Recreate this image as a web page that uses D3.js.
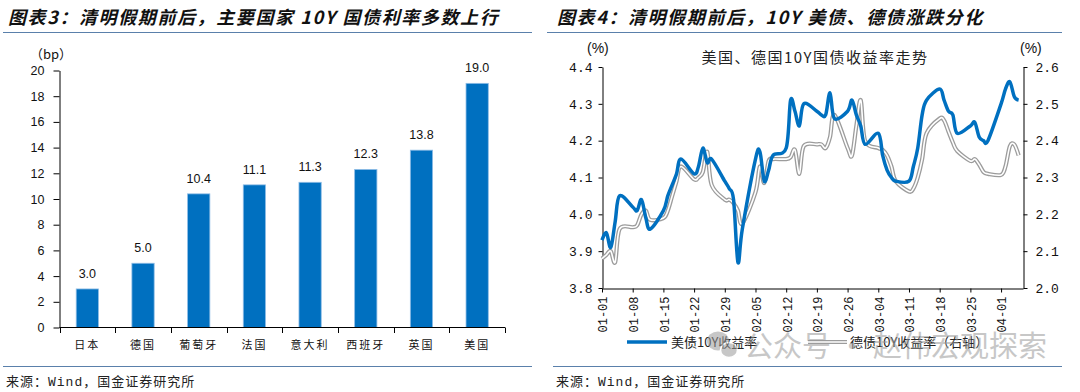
<!DOCTYPE html>
<html>
<head>
<meta charset="utf-8">
<script src="https://cdn.jsdelivr.net/npm/d3@7"></script>
<style>
  body { margin: 0; background: #fff; }
  svg { display: block; }
</style>
</head>
<body>
<script>
// ---- left chart: change of 10Y yields over Qingming (bp)
var countries = ["日本", "德国", "葡萄牙", "法国", "意大利", "西班牙", "英国", "美国"];
var changes = [3.0, 5.0, 10.4, 11.1, 11.3, 12.3, 13.8, 19.0];
var barTicks = [0, 2, 4, 6, 8, 10, 12, 14, 16, 18, 20];

// ---- right chart: 10Y yields, US (left axis) and Germany (right axis)
var days = ["01-01","01-02","01-03","01-04","01-05","01-08","01-09","01-10","01-11","01-12",
            "01-15","01-16","01-17","01-18","01-19","01-22","01-23","01-24","01-25","01-26",
            "01-29","01-30","01-31","02-01","02-02","02-05","02-06","02-07","02-08","02-09",
            "02-12","02-13","02-14","02-15","02-16","02-19","02-20","02-21","02-22","02-23",
            "02-26","02-27","02-28","02-29","03-01","03-04","03-05","03-06","03-07","03-08",
            "03-11","03-12","03-13","03-14","03-15","03-18","03-19","03-20","03-21","03-22",
            "03-25","03-26","03-27","03-28","03-29","04-01","04-02","04-03","04-04","04-05"];
var usYield = [3.93,3.95,3.91,3.98,4.05,4.02,4.01,4.04,3.99,3.96,
               4.01,4.05,4.08,4.11,4.15,4.11,4.13,4.18,4.14,4.15,
               4.09,4.07,4.04,3.87,3.96,4.15,4.17,4.09,4.12,4.16,
               4.18,4.31,4.28,4.24,4.30,4.28,4.27,4.27,4.33,4.26,
               4.28,4.31,4.27,4.24,4.19,4.22,4.16,4.12,4.10,4.09,
               4.09,4.13,4.18,4.27,4.31,4.34,4.31,4.28,4.27,4.22,
               4.24,4.25,4.21,4.20,4.20,4.30,4.34,4.36,4.32,4.31];
var deYield = [2.08,2.09,2.10,2.07,2.16,2.165,2.17,2.20,2.21,2.185,
               2.19,2.21,2.25,2.29,2.33,2.295,2.30,2.315,2.37,2.28,
               2.24,2.24,2.23,2.21,2.175,2.26,2.33,2.285,2.345,2.35,
               2.35,2.355,2.375,2.31,2.385,2.39,2.39,2.38,2.41,2.47,
               2.38,2.36,2.44,2.51,2.40,2.38,2.375,2.36,2.33,2.29,
               2.262,2.27,2.30,2.35,2.42,2.46,2.455,2.425,2.395,2.372,
               2.345,2.35,2.335,2.315,2.31,2.307,2.33,2.385,2.39,2.36];
var usTicks = [3.8, 3.9, 4.0, 4.1, 4.2, 4.3, 4.4];
var deTicks = [2.0, 2.1, 2.2, 2.3, 2.4, 2.5, 2.6];
var dateTicks = ["01-01","01-08","01-15","01-22","01-29","02-05","02-12","02-19",
                 "02-26","03-04","03-11","03-18","03-25","04-01"];

var width = 1080,
    height = 392,
    blue = "#0070c0",
    ruleColor = "#5a80ab",
    cjk = "'Noto Sans CJK SC', 'Noto Sans', sans-serif",
    mono = "'Liberation Mono', 'Noto Sans CJK SC', monospace";

var parseDay = d3.timeParse("%Y-%m-%d");
function toDate(s) { return parseDay("2024-" + s); }

var svg = d3.select("body")
    .append("svg")
    .attr("width", width)
    .attr("height", height);

// ---- titles, rules, sources
var titles = [
    {x: 8, text: "图表3：清明假期前后，主要国家 10Y 国债利率多数上行"},
    {x: 557, text: "图表4：清明假期前后，10Y 美债、德债涨跌分化"}
];
svg.selectAll("text.title")
    .data(titles)
    .enter()
    .append("text")
    .attr("class", "title")
    .attr("x", function(d) { return d.x; })
    .attr("y", 24)
    .attr("font-family", cjk)
    .attr("font-size", "18px")
    .attr("font-weight", 700)
    .attr("font-style", "italic")
    .attr("letter-spacing", "1.6px")
    .attr("fill", "#111")
    .text(function(d) { return d.text; });

var rules = [[3, 532, 32], [547, 1062, 32], [3, 532, 366], [553, 1062, 366]];
svg.selectAll("line.rule")
    .data(rules)
    .enter()
    .append("line")
    .attr("x1", function(d) { return d[0]; })
    .attr("x2", function(d) { return d[1]; })
    .attr("y1", function(d) { return d[2] + 0.5; })
    .attr("y2", function(d) { return d[2] + 0.5; })
    .attr("stroke", ruleColor)
    .attr("stroke-width", 1);

svg.selectAll("text.source")
    .data([6, 556])
    .enter()
    .append("text")
    .attr("class", "source")
    .attr("x", function(d) { return d; })
    .attr("y", 386)
    .attr("font-family", mono)
    .attr("font-size", "13px")
    .attr("letter-spacing", "1px")
    .attr("fill", "#222")
    .text("来源：Wind，国金证券研究所");

// ---- left: bar chart
var x = d3.scaleBand()
    .domain(countries)
    .range([59.5, 505])
    .paddingInner(0.6)
    .paddingOuter(0.3);

var y = d3.scaleLinear()
    .domain([0, 20])
    .range([327.5, 70.5]);

var yAxis = svg.append("g")
    .attr("transform", "translate(59.5,0)")
    .call(d3.axisLeft(y).tickValues(barTicks).tickSize(6).tickPadding(9).tickSizeOuter(0));
yAxis.select(".domain").attr("stroke", "#000");
yAxis.selectAll("line").attr("stroke", "#000");
yAxis.selectAll("text")
    .attr("font-family", "'Liberation Sans', Arial, sans-serif")
    .attr("font-size", "12.5px")
    .attr("fill", "#111");

svg.append("text")
    .attr("x", 30)
    .attr("y", 59)
    .attr("font-family", cjk)
    .attr("font-size", "13px")
    .attr("fill", "#111")
    .text("（bp）");

svg.selectAll("rect.bar")
    .data(changes)
    .enter()
    .append("rect")
    .attr("class", "bar")
    .attr("x", function(d, i) { return x(countries[i]); })
    .attr("y", function(d) { return y(d); })
    .attr("width", x.bandwidth())
    .attr("height", function(d) { return y(0) - y(d); })
    .attr("fill", blue)
    .attr("stroke", "#8fbde6")
    .attr("stroke-width", 0.8);

svg.selectAll("text.barlabel")
    .data(changes)
    .enter()
    .append("text")
    .attr("class", "barlabel")
    .attr("text-anchor", "middle")
    .attr("x", function(d, i) { return x(countries[i]) + x.bandwidth() / 2; })
    .attr("y", function(d) { return y(d) - 11; })
    .attr("font-family", "'Liberation Sans', Arial, sans-serif")
    .attr("font-size", "12.5px")
    .attr("fill", "#111")
    .text(function(d) { return d.toFixed(1); });

// x axis with boundary ticks between categories
svg.append("line")
    .attr("x1", 59.5).attr("x2", 505)
    .attr("y1", 327.5).attr("y2", 327.5)
    .attr("stroke", "#000");
svg.selectAll("line.xtick")
    .data(d3.range(countries.length + 1))
    .enter()
    .append("line")
    .attr("class", "xtick")
    .attr("x1", function(i) { return Math.round(59.5 + i * x.step()) + 0.5; })
    .attr("x2", function(i) { return Math.round(59.5 + i * x.step()) + 0.5; })
    .attr("y1", 327.5)
    .attr("y2", 333)
    .attr("stroke", "#000");
svg.selectAll("text.country")
    .data(countries)
    .enter()
    .append("text")
    .attr("class", "country")
    .attr("text-anchor", "middle")
    .attr("x", function(d) { return x(d) + x.bandwidth() / 2; })
    .attr("y", 349)
    .attr("font-family", cjk)
    .attr("font-size", "11px")
    .attr("letter-spacing", "2px")
    .attr("fill", "#111")
    .text(function(d) { return d; });

// ---- right: line chart
var t = d3.scaleTime()
    .domain([toDate("01-01"), toDate("04-06")])
    .range([602, 1023]);
var yl = d3.scaleLinear().domain([3.8, 4.4]).range([288, 67]);
var yr = d3.scaleLinear().domain([2.0, 2.6]).range([288, 67]);

function styleAxis(g) {
    g.select(".domain").attr("stroke", "#000");
    g.selectAll("line").attr("stroke", "#000");
    g.selectAll("text")
        .attr("font-family", mono)
        .attr("font-size", "13px")
        .attr("fill", "#111");
}

svg.append("g")
    .attr("transform", "translate(602.5,0)")
    .call(d3.axisLeft(yl).tickValues(usTicks).tickFormat(d3.format(".1f")).tickSize(4).tickPadding(6).tickSizeOuter(0))
    .call(styleAxis);

svg.append("g")
    .attr("transform", "translate(1023.5,0)")
    .call(d3.axisRight(yr).tickValues(deTicks).tickFormat(d3.format(".1f")).tickSize(4).tickPadding(8).tickSizeOuter(0))
    .call(styleAxis);

var xAxis = svg.append("g")
    .attr("transform", "translate(0,288.5)")
    .call(d3.axisBottom(t)
        .tickValues(dateTicks.map(toDate))
        .tickFormat(d3.timeFormat("%m-%d"))
        .tickSize(4)
        .tickSizeOuter(0))
    .call(styleAxis);
xAxis.selectAll("text")
    .attr("font-size", "12px")
    .attr("transform", "rotate(-90)")
    .attr("text-anchor", "end")
    .attr("x", -8)
    .attr("y", 0)
    .attr("dy", "0.4em");

svg.selectAll("text.unit")
    .data([587, 1020])
    .enter()
    .append("text")
    .attr("class", "unit")
    .attr("x", function(d) { return d; })
    .attr("y", 53)
    .attr("font-family", "'Liberation Sans', Arial, sans-serif")
    .attr("font-size", "14px")
    .attr("fill", "#111")
    .text("(%)");

svg.append("text")
    .attr("x", 815)
    .attr("y", 63)
    .attr("text-anchor", "middle")
    .attr("font-family", cjk)
    .attr("font-size", "15px")
    .attr("letter-spacing", "1.5px")
    .attr("fill", "#222")
    .text("美国、德国10Y国债收益率走势");

var dates = days.map(toDate);

var usLine = d3.line()
    .x(function(d, i) { return t(dates[i]); })
    .y(function(d) { return yl(d); })
    .curve(d3.curveCardinal.tension(0));

var deLine = d3.line()
    .x(function(d, i) { return t(dates[i]); })
    .y(function(d) { return yr(d); })
    .curve(d3.curveCardinal.tension(0));

// German yield: double gray line
svg.append("path")
    .attr("d", deLine(deYield))
    .attr("fill", "none")
    .attr("stroke", "#9c9c9c")
    .attr("stroke-width", 4.2);
svg.append("path")
    .attr("d", deLine(deYield))
    .attr("fill", "none")
    .attr("stroke", "#fff")
    .attr("stroke-width", 1.6);

svg.append("path")
    .attr("d", usLine(usYield))
    .attr("fill", "none")
    .attr("stroke", blue)
    .attr("stroke-width", 3.5)
    .attr("stroke-linejoin", "round");

// legend
var legend = svg.append("g");
legend.append("line")
    .attr("x1", 627).attr("x2", 667)
    .attr("y1", 342).attr("y2", 342)
    .attr("stroke", blue)
    .attr("stroke-width", 3.5);
legend.append("text")
    .attr("x", 671).attr("y", 347)
    .attr("font-family", cjk)
    .attr("font-size", "13px")
    .attr("fill", "#222")
    .text("美债10Y收益率");
legend.append("line")
    .attr("x1", 808).attr("x2", 847)
    .attr("y1", 342).attr("y2", 342)
    .attr("stroke", "#9c9c9c")
    .attr("stroke-width", 4.2);
legend.append("line")
    .attr("x1", 808).attr("x2", 847)
    .attr("y1", 342).attr("y2", 342)
    .attr("stroke", "#fff")
    .attr("stroke-width", 1.6);
legend.append("text")
    .attr("x", 850).attr("y", 347)
    .attr("font-family", cjk)
    .attr("font-size", "13px")
    .attr("fill", "#222")
    .text("德债10Y收益率（右轴）");

// watermark
var mark = svg.append("g").attr("opacity", 0.55);
mark.append("ellipse")
    .attr("cx", 718).attr("cy", 341).attr("rx", 11).attr("ry", 9.5)
    .attr("fill", "#9a9a9a");
mark.append("ellipse")
    .attr("cx", 729).attr("cy", 350).attr("rx", 8.5).attr("ry", 7.5)
    .attr("fill", "#9a9a9a")
    .attr("stroke", "#fff")
    .attr("stroke-width", 1.5);
mark.append("text")
    .attr("x", 744).attr("y", 357)
    .attr("font-family", cjk)
    .attr("font-size", "29px")
    .attr("fill", "#9a9a9a")
    .text("公众号 · 赵伟宏观探索");
</script>
</body>
</html>
